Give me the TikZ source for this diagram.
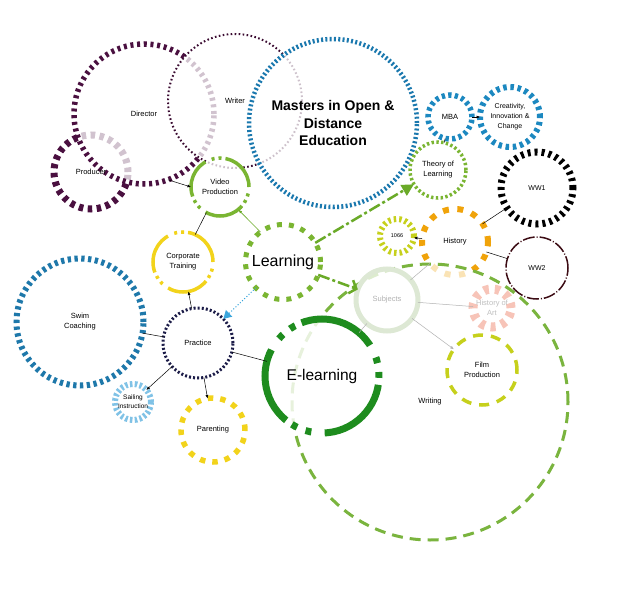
\documentclass[tikz,border=0pt]{standalone}
\usepackage{fontspec}
\setmainfont{Liberation Sans}
\usetikzlibrary{arrows.meta}
\definecolor{dpurple}{HTML}{4A1040}
\definecolor{wpurple}{HTML}{3A0A30}
\definecolor{mblue}{HTML}{1A78AE}
\definecolor{sblue}{HTML}{1E78AA}
\definecolor{bblue}{HTML}{1C88C0}
\definecolor{lblue}{HTML}{80C2E6}
\definecolor{navy}{HTML}{1C1C48}
\definecolor{lgreen}{HTML}{7AB532}
\definecolor{dgreen}{HTML}{1E8C1E}
\definecolor{yel}{HTML}{F2D31B}
\definecolor{ygreen}{HTML}{C6D01C}
\definecolor{orng}{HTML}{F0A30A}
\definecolor{brn}{HTML}{3C0C14}
\definecolor{subj}{HTML}{DDE8D4}
\definecolor{pinkf}{HTML}{F7C4B8}
\definecolor{wgreen}{HTML}{7AB43E}
\definecolor{arrgreen}{HTML}{6AAA28}
\definecolor{arrblue}{HTML}{3AA6DC}
\begin{document}
\begin{tikzpicture}[x=1pt,y=-1pt,
  bub/.style={circle,inner sep=0pt,outer sep=0pt,fill=white,fill opacity=0.75,text opacity=1,align=center,font=\fontsize{7.5}{10}\selectfont},
  lnk/.style={draw=black,line width=0.5pt},
  lnka/.style={lnk,-{Latex[length=3.5pt,width=3pt]}},
  glnk/.style={draw=black!30,line width=0.5pt},
  bigar/.style={draw=arrgreen,line width=2.5pt,dash pattern=on 12pt off 3pt on 3pt off 3pt}]
\useasboundingbox (0,0) rectangle (640,610);
\fill[white] (0,0) rectangle (640,610);
% top-left cluster
\node[bub,draw=dpurple,line width=7pt,dash pattern=on 4.5pt off 4.5pt,minimum size=74pt] (prod) at (91,172) {};
\node[bub,draw=dpurple,line width=5.5pt,dash pattern=on 3pt off 3.7pt,minimum size=140pt] (dir) at (144,114) {Director};
\node[font=\fontsize{7.5}{10}\selectfont,inner sep=0pt] (prodlab) at (prod.center) {Producer};
\node[bub,draw=wpurple,line width=2pt,dash pattern=on 1.6pt off 2.4pt,minimum size=134pt] (wri) at (235,101) {Writer};
\node[bub,draw=mblue,line width=4.5pt,dash pattern=on 2pt off 2.3pt,minimum size=168pt,font=\bfseries\fontsize{14}{17.5}\selectfont] (mde) at (333,123) {Masters in Open \&\\Distance\\Education};
% left cluster
\node[bub,draw=sblue,line width=6pt,dash pattern=on 3.3pt off 3.5pt,minimum size=127pt] (swim) at (80,322) {Swim\\Coaching};
\node[bub,draw=navy,line width=3pt,dash pattern=on 2pt off 2.1pt,minimum size=70pt] (prac) at (198,343) {Practice};
\node[bub,draw=lblue,line width=6pt,dash pattern=on 2.5pt off 2.3pt,minimum size=36pt,font=\fontsize{6.5}{9}\selectfont] (sail) at (133,402) {Sailing\\Instruction};
\node[bub,draw=yel,line width=5.5pt,dash pattern=on 5.5pt off 7pt,minimum size=64pt] (par) at (213,430) {Parenting};
\node[bub,draw=yel,line width=3.5pt,dash pattern=on 42pt off 4pt on 3pt off 4pt on 3pt off 6.8pt,minimum size=60pt] (ct) at (183,262) {Corporate\\Training};
\node[bub,draw=lgreen,line width=3.5pt,dash pattern=on 40pt off 4pt on 3pt off 4pt on 3pt off 6.7pt,minimum size=58pt] (vp) at (220,187) {Video\\Production};
\node[bub,draw=lgreen,line width=5pt,dash pattern=on 5pt off 7pt,minimum size=75pt,font=\fontsize{16}{18}\selectfont] (learn) at (283,262) {Learning};
% right cluster
\node[bub,draw=bblue,line width=5.5pt,dash pattern=on 3.3pt off 3.3pt,minimum size=44pt] (mba) at (450,117) {MBA};
\node[bub,draw=bblue,line width=6pt,dash pattern=on 3.5pt off 3.7pt,minimum size=60pt,font=\fontsize{7}{10}\selectfont] (cic) at (510,117) {Creativity,\\Innovation \&\\Change};
\node[bub,draw=lgreen,line width=3.5pt,dash pattern=on 2.4pt off 2.4pt,minimum size=56pt] (tol) at (438,170) {Theory of\\Learning};
\node[bub,draw=black,line width=7pt,dash pattern=on 3pt off 4pt,minimum size=72pt,font=\fontsize{7}{9}\selectfont] (ww1) at (537,188) {WW1};
\node[bub,draw=brn,line width=1.5pt,dash pattern=on 12pt off 2pt on 1pt off 2pt,minimum size=62pt,font=\fontsize{7}{9}\selectfont] (ww2) at (537,268) {WW2};
\node[bub,draw=ygreen,line width=6pt,dash pattern=on 2.5pt off 3pt,minimum size=34pt,font=\fontsize{5.5}{7}\selectfont] (y1066) at (397,236) {1066};
\node[bub,draw=orng,line width=6pt,dash pattern=on 6pt off 8.5pt,minimum size=66pt] (hist) at (455,242) {History};
% writing and its contents
\node[bub,fill opacity=0.7,draw=wgreen,line width=3pt,dash pattern=on 11pt off 7pt,minimum size=276pt] (writ) at (430,402) {Writing};
\node[bub,draw=subj,line width=5pt,minimum size=62pt,text=black!30] (subj) at (387,300) {Subjects};
\node[bub,draw=pinkf,line width=9pt,dash pattern=on 5pt off 6pt,minimum size=38pt,text=black!25] (hoa) at (492,308) {History of\\Art};
\node[bub,fill opacity=0.82,draw=dgreen,line width=7pt,dash pattern=on 78pt off 7pt on 6pt off 9pt on 6pt off 13.4pt,dash phase=87pt,minimum size=114pt,font=\fontsize{15.5}{18}\selectfont] (elearn) at (322,376) {E-learning};
\node[bub,draw=ygreen,line width=3.5pt,dash pattern=on 10pt off 8pt,minimum size=70pt] (film) at (482,370) {Film\\Production};
% connectors
\draw[lnka] (dir.-70) -- (vp.180);
\draw[lnk] (vp.-118) -- (ct.66);
\draw[draw=arrgreen,line width=0.6pt,-{Latex[length=4pt,width=3pt]}] (learn.127) -- (vp.-51);
\draw[bigar,-{Triangle[length=12pt,width=12pt]}] (learn) -- (tol);
\draw[bigar,-{Straight Barb[length=6pt,width=14pt]}] (learn) -- (subj);
\draw[draw=arrblue,line width=1pt,dotted,-{Triangle[length=8pt,width=9pt]}] (learn) -- (prac);
\draw[lnka] (prac) -- (ct);
\draw[lnk] (prac) -- (swim);
\draw[lnka] (prac) -- (sail);
\draw[lnka] (prac) -- (par);
\draw[lnk] (prac) -- (elearn);
\draw[lnka] (mba) -- (cic);
\draw[lnk] (mba) -- (tol);
\draw[lnka] (hist) -- (y1066);
\draw[lnk] (hist) -- (ww1);
\draw[lnk] (hist) -- (ww2);
\draw[glnk] (subj) -- (hist);
\draw[glnk] (subj) -- (hoa);
\draw[glnk,-{Latex[length=3.5pt,width=3pt]}] (subj) -- (film);
\draw[glnk] (subj) -- (elearn);
\end{tikzpicture}
\end{document}
